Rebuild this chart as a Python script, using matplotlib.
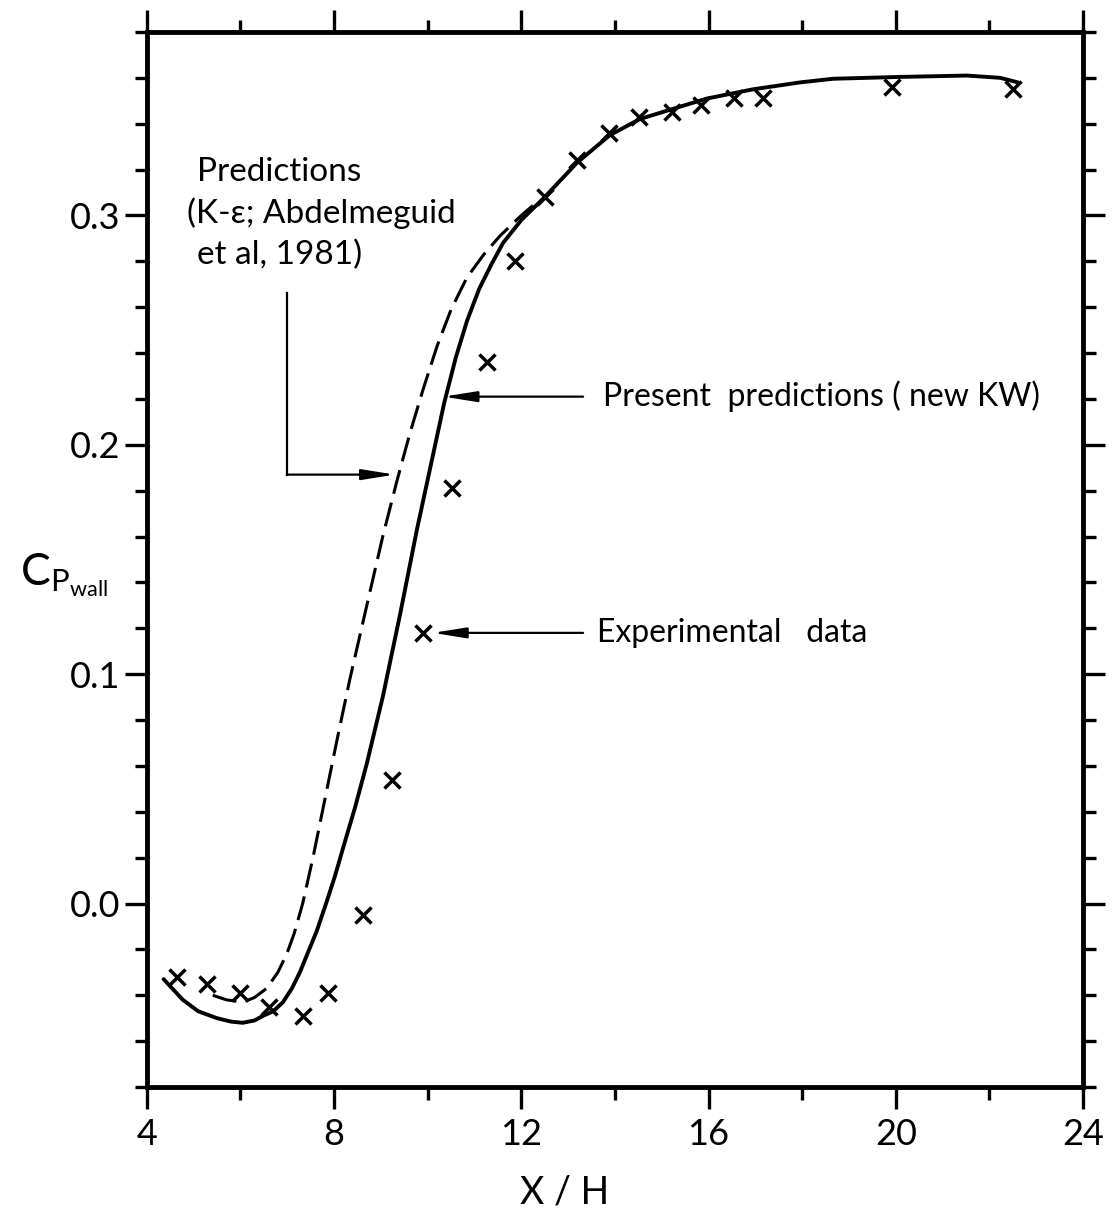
import numpy as np
import matplotlib.pyplot as plt
from matplotlib.ticker import MultipleLocator

# Experimental data (x markers)
exp_x = [4.64, 5.28, 5.99, 6.61, 7.33, 7.87, 8.62, 9.24, 9.91, 10.52, 11.26,
         11.86, 12.50, 13.19, 13.87, 14.51, 15.22, 15.84, 16.54, 17.16, 19.92, 22.50]
exp_cp = [-0.032, -0.035, -0.039, -0.045, -0.049, -0.039, -0.005, 0.054, 0.118, 0.181, 0.236,
          0.280, 0.308, 0.324, 0.336, 0.343, 0.345, 0.348, 0.351, 0.351, 0.356, 0.355]

# Present predictions (new KW), solid line
kw_x = [4.36, 4.77, 5.10, 5.50, 5.80, 6.05, 6.30, 6.48, 6.70, 6.91, 7.10, 7.27, 7.45,
        7.63, 7.83, 8.02, 8.19, 8.45, 8.70, 9.04, 9.41, 9.77, 10.15, 10.35, 10.60,
        10.84, 11.10, 11.37, 11.61, 12.00, 12.50, 13.19, 13.89, 14.53, 15.24, 15.97,
        16.95, 17.95, 18.66, 20.09, 21.52, 22.23, 22.61]
kw_cp = [-0.033, -0.042, -0.047, -0.050, -0.0515, -0.052, -0.051, -0.049, -0.047,
         -0.043, -0.037, -0.030, -0.021, -0.012, 0.0, 0.012, 0.024, 0.042, 0.061, 0.090,
         0.126, 0.163, 0.199, 0.218, 0.238, 0.254, 0.268, 0.279, 0.288, 0.298, 0.308,
         0.323, 0.335, 0.342, 0.3465, 0.351, 0.355, 0.358, 0.3596, 0.3604, 0.361,
         0.360, 0.358]

# K-epsilon predictions (Abdelmeguid et al, 1981), dashed line
ke_x = [5.41, 5.70, 6.05, 6.30, 6.56, 6.80, 6.99, 7.15, 7.33, 7.55, 7.80, 8.05, 8.34,
        8.70, 9.04, 9.34, 9.62, 9.90, 10.20, 10.50, 10.84, 11.20, 11.54, 12.00, 12.40]
ke_cp = [-0.040, -0.042, -0.043, -0.041, -0.037, -0.030, -0.022, -0.013, 0.0, 0.020,
         0.045, 0.070, 0.098, 0.130, 0.160, 0.184, 0.205, 0.224, 0.243, 0.259, 0.273,
         0.283, 0.291, 0.300, 0.307]

plt.rcParams['font.family'] = ['Lato', 'DejaVu Sans']
plt.rcParams['mathtext.fontset'] = 'custom'
plt.rcParams['mathtext.rm'] = 'Lato'

fig = plt.figure(figsize=(11.12, 12.11), dpi=100)
ax = fig.add_axes([0.132, 0.1024, 0.842, 0.8712])

ax.plot(kw_x, kw_cp, color='black', lw=2.8, solid_capstyle='round', solid_joinstyle='round')
ax.plot(ke_x, ke_cp, color='black', lw=2.2, dashes=(8, 3))
ax.plot(exp_x, exp_cp, 'x', color='black', ms=11, mew=2.5)

ax.set_xlim(4, 24)
ax.set_ylim(-0.08, 0.38)
ax.xaxis.set_major_locator(MultipleLocator(4))
ax.xaxis.set_minor_locator(MultipleLocator(2))
ax.yaxis.set_major_locator(MultipleLocator(0.1))
ax.yaxis.set_minor_locator(MultipleLocator(0.02))
ax.set_yticks([0.0, 0.1, 0.2, 0.3])
ax.set_yticklabels(['0.0', '0.1', '0.2', '0.3'])

for s in ax.spines.values():
    s.set_linewidth(3.5)
ax.tick_params(which='both', direction='out', top=True, right=True, width=2.4,
               labelsize=26, color='black')
ax.tick_params(which='major', length=16, pad=6)
ax.tick_params(which='minor', length=9)
ax.tick_params(axis='y', which='major', pad=3)

ax.text(12.93, -0.126, 'X / H', fontsize=27, ha='center', va='center')
ax.text(-0.135, 0.485, r'$\mathregular{C_{P_{wall}}}$', fontsize=32,
        transform=ax.transAxes, ha='left', va='center')

# annotations
ax.text(5.07, 0.319, 'Predictions', fontsize=24, ha='left', va='center')
ax.text(4.85, 0.301, '(K-\u03b5; Abdelmeguid', fontsize=24, ha='left', va='center')
ax.text(5.07, 0.283, 'et al, 1981)', fontsize=24, ha='left', va='center')
ax.plot([6.99, 6.99], [0.266, 0.187], color='black', lw=1.6)
arrow = dict(arrowstyle='-|>,head_length=1.0,head_width=0.16', color='black',
             lw=1.6, mutation_scale=20, shrinkA=0, shrinkB=0)
ax.annotate('', xy=(9.30, 0.187), xytext=(6.99, 0.187), arrowprops=arrow)

ax.annotate('', xy=(10.34, 0.221), xytext=(13.32, 0.221), arrowprops=arrow)
ax.text(13.74, 0.221, 'Present  predictions ( new KW)', fontsize=23, ha='left', va='center')

ax.annotate('', xy=(10.11, 0.118), xytext=(13.32, 0.118), arrowprops=arrow)
ax.text(13.62, 0.118, 'Experimental   data', fontsize=23, ha='left', va='center')

fig.savefig('out.png', dpi=100)
